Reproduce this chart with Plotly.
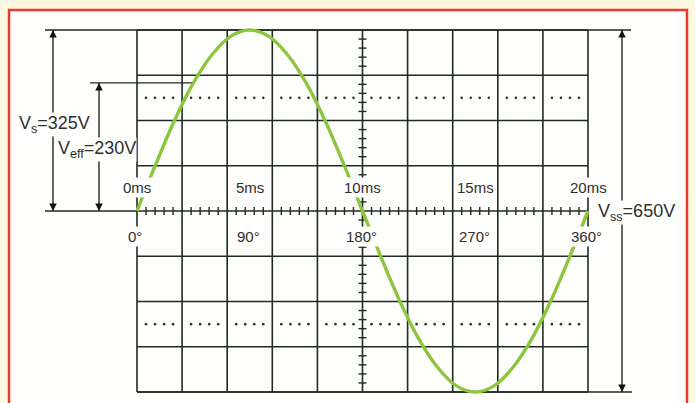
import plotly.graph_objects as go

# ---------------- data ----------------
phase_deg = [0, 15, 30, 45, 60, 75, 90, 105, 120, 135, 150, 165, 180,
             195, 210, 225, 240, 255, 270, 285, 300, 315, 330, 345, 360]
voltage = [0, 84, 163, 230, 281, 314, 325, 314, 281, 230, 163, 84, 0,
           -84, -163, -230, -281, -314, -325, -314, -281, -230, -163, -84, 0]
label_deg = [0, 90, 180, 270, 360]
time_labels = ["0ms", "5ms", "10ms", "15ms", "20ms"]
angle_labels = ["0°", "90°", "180°", "270°", "360°"]
V_peak = 325
V_eff = 230
V_ss = 650
div_x = 36.0          # degrees per division
div_y = 81.25         # volts per division

# ---------------- geometry helpers ----------------
W, H = 695, 403
KX = 451 / 360.0      # px per degree
KY = 362 / 650.0      # px per volt
X0PX, Y0PX = 137, 211


def px2deg(px):
    return (px - X0PX) / KX


def px2v(py):
    return (Y0PX - py) / KY


FONT = "Liberation Sans, Arial, Helvetica, sans-serif"
GRID = "#1f2a22"
TXT = "#2e2e2e"
GREEN = "#8cc63f"
PAPER = "#fefefd"

fig = go.Figure()

shapes = []
# page background with red frame
shapes.append(dict(type="rect", xref="paper", yref="paper",
                   x0=9 / W, x1=687 / W, y0=-0.1, y1=1 - 10 / H,
                   fillcolor=PAPER, line=dict(color="#e4392b", width=2.5),
                   layer="below"))

# graticule
for i in range(11):
    shapes.append(dict(type="line", x0=i * div_x, x1=i * div_x, y0=-4 * div_y, y1=4 * div_y,
                       line=dict(color=GRID, width=1.6), layer="below"))
for j in range(-4, 5):
    shapes.append(dict(type="line", x0=0, x1=360, y0=j * div_y, y1=j * div_y,
                       line=dict(color=GRID, width=1.6), layer="below"))

# small ticks on centre axes
for i in range(1, 50):
    if i % 5:
        xv = i * div_x / 5
        shapes.append(dict(type="line", x0=xv, x1=xv, y0=-4 / KY, y1=4 / KY,
                           line=dict(color=GRID, width=1.4), layer="below"))
for j in range(-19, 20):
    if j % 5:
        yv = j * div_y / 5
        shapes.append(dict(type="line", x0=180 - 4 / KX, x1=180 + 4 / KX, y0=yv, y1=yv,
                           line=dict(color=GRID, width=1.4), layer="below"))

# reference lines for the measurement arrows
LW = dict(color=GRID, width=1.4)
shapes += [
    dict(type="line", x0=px2deg(45), x1=px2deg(631), y0=V_peak, y1=V_peak, line=LW, layer="below"),
    dict(type="line", x0=px2deg(45), x1=0, y0=0, y1=0, line=LW, layer="below"),
    dict(type="line", x0=px2deg(90), x1=45, y0=V_eff, y1=V_eff, line=LW, layer="below"),
    dict(type="line", x0=0, x1=px2deg(632), y0=-V_peak, y1=-V_peak, line=LW, layer="below"),
]
arrow_x = {"s": px2deg(53), "eff": px2deg(99), "ss": px2deg(622)}
shapes += [
    dict(type="line", x0=arrow_x["s"], x1=arrow_x["s"], y0=0, y1=V_peak, line=LW, layer="below"),
    dict(type="line", x0=arrow_x["eff"], x1=arrow_x["eff"], y0=0, y1=V_eff, line=LW, layer="below"),
    dict(type="line", x0=arrow_x["ss"], x1=arrow_x["ss"], y0=V_ss / 2, y1=-V_ss / 2, line=LW, layer="below"),
]

# dotted graticule rows
dot_x, dot_y = [], []
for yv in (2.5 * div_y, -2.5 * div_y):
    for i in range(1, 50):
        if i % 5:
            dot_x.append(i * div_x / 5)
            dot_y.append(yv)
fig.add_trace(go.Scatter(x=dot_x, y=dot_y, mode="markers",
                         marker=dict(size=2.6, color="#333333"),
                         hoverinfo="skip", showlegend=False))

# arrow heads (tip sits exactly on the point for arrow-up / arrow-down symbols)
fig.add_trace(go.Scatter(
    x=[arrow_x["s"], arrow_x["eff"], arrow_x["ss"]],
    y=[V_peak, V_eff, V_ss / 2],
    mode="markers", marker=dict(symbol="arrow-up", size=7.5, color="#111111"),
    hoverinfo="skip", showlegend=False))
fig.add_trace(go.Scatter(
    x=[arrow_x["s"], arrow_x["eff"], arrow_x["ss"]],
    y=[0, 0, -V_ss / 2],
    mode="markers", marker=dict(symbol="arrow-down", size=7.5, color="#111111"),
    hoverinfo="skip", showlegend=False))

# sine wave
fig.add_trace(go.Scatter(x=phase_deg, y=voltage, mode="lines",
                         line=dict(color=GREEN, width=3.4, shape="spline", smoothing=1.0),
                         hoverinfo="skip", showlegend=False))

ann = []
# time and angle labels
for d, t, a in zip(label_deg, time_labels, angle_labels):
    ann.append(dict(x=d, y=px2v(187), xref="x", yref="y", text=t, showarrow=False,
                    font=dict(family=FONT, size=15, color=TXT), bgcolor=PAPER,
                    borderpad=1))
    ann.append(dict(x=d + (-1.5 if d == 0 else -1), y=px2v(236), xref="x", yref="y", text=a,
                    showarrow=False, font=dict(family=FONT, size=15, color=TXT),
                    bgcolor=PAPER, borderpad=1))

# voltage labels
ann.append(dict(x=px2deg(54), y=px2v(124), xref="x", yref="y",
                text=f"V<sub>s</sub>={V_peak}V", showarrow=False,
                font=dict(family=FONT, size=18, color=TXT), bgcolor=PAPER, borderpad=0))
ann.append(dict(x=px2deg(97), y=px2v(149), xref="x", yref="y",
                text=f"V<sub>eff</sub>={V_eff}V", showarrow=False,
                font=dict(family=FONT, size=18, color=TXT), bgcolor=PAPER, borderpad=0))
ann.append(dict(x=px2deg(636), y=px2v(212), xref="x", yref="y",
                text=f"V<sub>ss</sub>={V_ss}V", showarrow=False,
                font=dict(family=FONT, size=18, color=TXT), bgcolor=PAPER, borderpad=0))

fig.update_layout(
    width=W, height=H,
    margin=dict(l=0, r=0, t=0, b=0),
    paper_bgcolor="#fff8e1",
    plot_bgcolor="rgba(0,0,0,0)",
    xaxis=dict(range=[px2deg(0), px2deg(W)], visible=False, fixedrange=True),
    yaxis=dict(range=[px2v(H), px2v(0)], visible=False, fixedrange=True),
    shapes=shapes,
    annotations=ann,
    showlegend=False,
)

fig.write_html("out.html", config={"displayModeBar": False},
               post_script="document.body.style.margin='0px';")
